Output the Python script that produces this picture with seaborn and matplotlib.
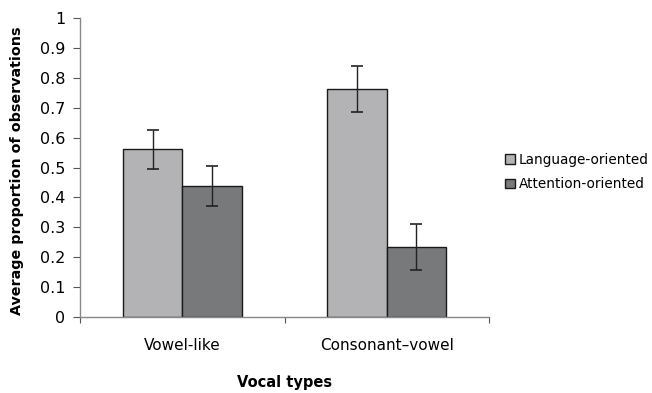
import matplotlib
matplotlib.use("Agg")
import matplotlib.pyplot as plt
import seaborn as sns
import pandas as pd
import numpy as np

categories = ["Vowel-like", "Consonant\u2013vowel"]
series = ["Language-oriented", "Attention-oriented"]
language_vals = [0.561, 0.764]
attention_vals = [0.439, 0.235]
language_err = [0.066, 0.077]
attention_err = [0.067, 0.077]
yticks = [0, 0.1, 0.2, 0.3, 0.4, 0.5, 0.6, 0.7, 0.8, 0.9, 1]
ytick_labels = ["0", "0.1", "0.2", "0.3", "0.4", "0.5", "0.6", "0.7", "0.8", "0.9", "1"]

df = pd.DataFrame({
    "cat": categories * 2,
    "series": [series[0]] * 2 + [series[1]] * 2,
    "val": language_vals + attention_vals,
    "err": language_err + attention_err,
})

sns.set_style("white")
plt.rcParams["font.family"] = ["DejaVu Sans"]
plt.rcParams["text.color"] = "black"
plt.rcParams["axes.labelcolor"] = "black"
plt.rcParams["xtick.color"] = "black"
plt.rcParams["ytick.color"] = "black"

fig = plt.figure(figsize=(6.52, 3.93), dpi=100)
ax = fig.add_axes([80 / 652, 1 - 317 / 393, (489 - 80) / 652, (317 - 18) / 393])

colors = {"Language-oriented": "#b3b3b5", "Attention-oriented": "#78797b"}
sns.barplot(data=df, x="cat", y="val", hue="series", order=categories,
            hue_order=series, palette=colors, width=0.58, errorbar=None,
            edgecolor="#1a1a1a", linewidth=1.0, saturation=1, ax=ax)

# error bars at bar centers
for cont, s in zip(ax.containers, series):
    sub = df[df["series"] == s].set_index("cat").loc[categories]
    xs = [p.get_x() + p.get_width() / 2 for p in cont.patches]
    ax.errorbar(xs, sub["val"].values, yerr=sub["err"].values, fmt="none",
                ecolor="#222222", elinewidth=1.0, capsize=4, capthick=1.2)

ax.set_ylim(0, 1)
ax.set_xlim(-0.5, 1.5)
ax.set_yticks(yticks)
ax.set_yticklabels(ytick_labels, fontsize=11.5)
ax.set_xticks([-0.5, 0.5, 1.5])
ax.set_xticklabels(["", "", ""])
ax.set_xticks([0, 1], minor=True)
ax.set_xticklabels(categories, minor=True, fontsize=11)
ax.tick_params(axis="x", which="minor", length=0, pad=15)
ax.tick_params(axis="x", which="major", length=4.5, color="#555555", direction="out", bottom=True)
ax.tick_params(axis="y", length=5, color="#555555", direction="out", left=True, pad=5.5)

for sp in ["top", "right"]:
    ax.spines[sp].set_visible(False)
for sp in ["left", "bottom"]:
    ax.spines[sp].set_color("#888888")
    ax.spines[sp].set_linewidth(1.0)

ax.set_ylabel("Average proportion of observations", fontsize=10.3, fontweight="bold")
ax.yaxis.set_label_coords(-56 / 409, 0.49)
ax.set_xlabel("Vocal types", fontsize=10.5, fontweight="bold", labelpad=16)

handles, labels = ax.get_legend_handles_labels()
ax.legend(handles, labels, loc="center left", bbox_to_anchor=(1.01, 0.485), frameon=False,
          fontsize=9.8, handlelength=0.7, handleheight=0.7, handletextpad=0.3, labelspacing=0.75)

fig.savefig("out.png", dpi=100)
